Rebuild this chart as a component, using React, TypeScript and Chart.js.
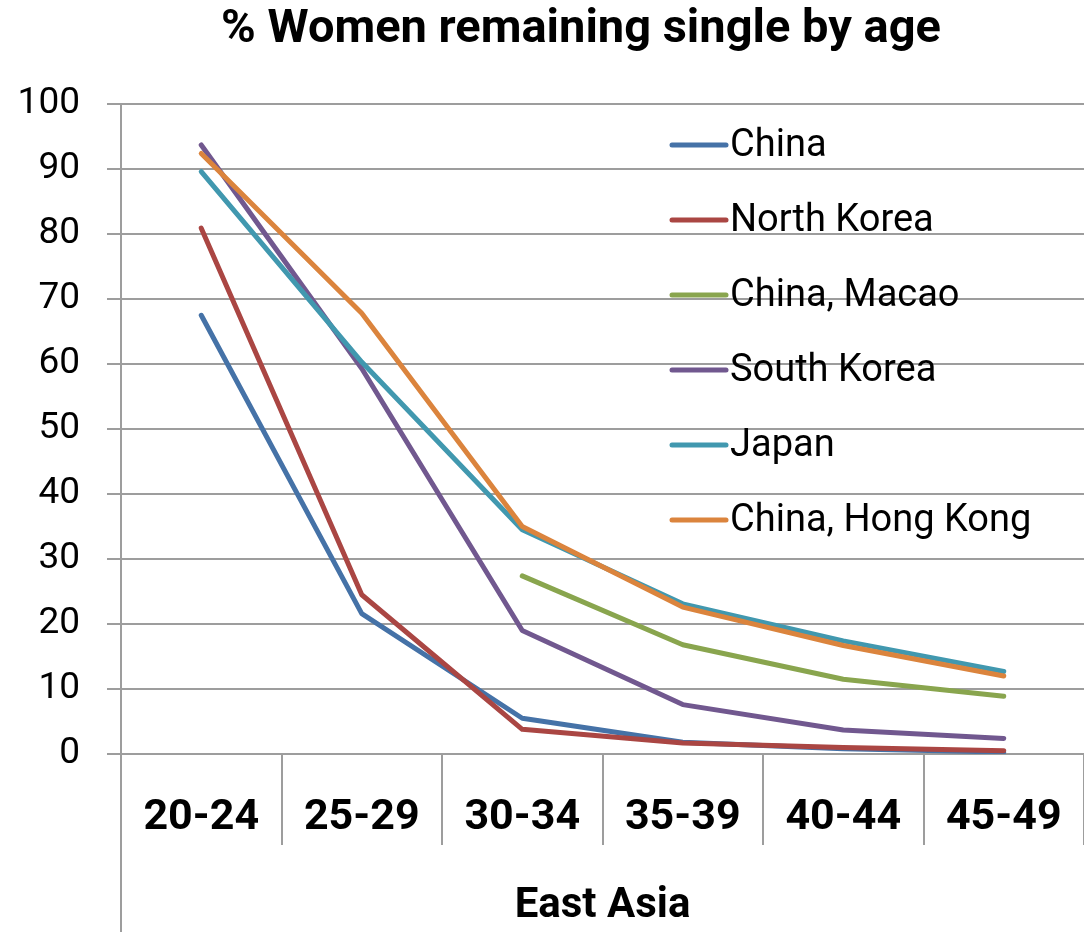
import { useEffect, useRef } from "react";
import { Chart, registerables } from "chart.js";

Chart.register(...registerables);

// Age groups on the category axis
const ageGroups = ["20-24", "25-29", "30-34", "35-39", "40-44", "45-49"];
const regionLabel = "East Asia";
const chartTitle = "% Women remaining single by age";

// Share of women never married, per age group (%)
const china = [67.5, 21.6, 5.5, 1.8, 0.8, 0.3];
const northKorea = [80.9, 24.5, 3.8, 1.7, 1.0, 0.5];
const macao = [null, null, 27.4, 16.8, 11.5, 8.9];
const southKorea = [93.7, 59.3, 19.0, 7.6, 3.7, 2.4];
const japan = [89.6, 60.3, 34.5, 23.1, 17.4, 12.7];
const hongKong = [92.4, 67.8, 35.0, 22.6, 16.7, 12.0];

const seriesNames = ["China", "North Korea", "China, Macao", "South Korea", "Japan", "China, Hong Kong"];
const seriesValues = [china, northKorea, macao, southKorea, japan, hongKong];
const seriesColors = ["#4572A7", "#AA4643", "#89A54E", "#71588F", "#4198AF", "#DB843D"];

const FONT = "Roboto";
const GRID = "#9d9d9d";
const LINE_W = 5;

// Title, category-group divider and an in-plot legend
const decorations = {
  id: "decorations",
  afterDraw(chart: any) {
    const { ctx, chartArea } = chart;
    ctx.save();

    ctx.fillStyle = "#000";
    ctx.font = `bold 47px ${FONT}`;
    ctx.textAlign = "center";
    ctx.textBaseline = "middle";
    ctx.fillText(chartTitle, chart.width / 2 + 39, 30);

    ctx.strokeStyle = GRID;
    ctx.lineWidth = 2;
    ctx.beginPath();
    ctx.moveTo(chartArea.left, chartArea.bottom);
    ctx.lineTo(chartArea.left, chart.height);
    ctx.stroke();

    const startX = chartArea.left + 551;
    const lineLen = 54;
    ctx.font = `38px ${FONT}`;
    ctx.textAlign = "left";
    ctx.lineCap = "round";
    chart.data.datasets.forEach((ds: any, i: number) => {
      const y = chartArea.top + 41 + i * 75;
      ctx.strokeStyle = ds.borderColor;
      ctx.lineWidth = LINE_W;
      ctx.beginPath();
      ctx.moveTo(startX, y);
      ctx.lineTo(startX + lineLen, y);
      ctx.stroke();
      ctx.fillStyle = "#000";
      ctx.fillText(ds.label, startX + lineLen + 4, y + 1);
    });
    ctx.restore();
  },
};

export default function App() {
  const canvasRef = useRef<HTMLCanvasElement>(null);

  useEffect(() => {
    if (!canvasRef.current) return;
    const chart = new Chart(canvasRef.current, {
      type: "line",
      data: {
        labels: ageGroups,
        datasets: seriesNames.map((name, i) => ({
          label: name,
          data: seriesValues[i],
          borderColor: seriesColors[i],
          backgroundColor: seriesColors[i],
          borderWidth: LINE_W,
          borderCapStyle: "round",
          borderJoinStyle: "round",
          pointRadius: 0,
          pointHoverRadius: 0,
          tension: 0,
          fill: false,
          spanGaps: false,
          order: seriesNames.length - i,
        })),
      },
      options: {
        animation: false,
        responsive: true,
        maintainAspectRatio: false,
        layout: { padding: { top: 104, left: 0, right: 0, bottom: 0 } },
        plugins: {
          legend: { display: false },
          title: { display: false },
          tooltip: { enabled: false },
        },
        scales: {
          x: {
            type: "category",
            offset: true,
            afterFit: (scale: any) => {
              scale.height = 178;
            },
            grid: {
              offset: true,
              drawOnChartArea: false,
              drawTicks: true,
              tickLength: 91,
              color: GRID,
              lineWidth: 2,
            },
            border: { display: true, color: GRID, width: 2 },
            ticks: {
              padding: -53,
              color: "#000",
              font: { family: FONT, size: 43, weight: "bold" },
              maxRotation: 0,
              autoSkip: false,
            },
            title: {
              display: true,
              text: regionLabel,
              color: "#000",
              font: { family: FONT, size: 42, weight: "bold" },
              padding: { top: 0, bottom: 0 },
            },
          },
          y: {
            min: 0,
            max: 100,
            afterFit: (scale: any) => {
              scale.width = 121;
            },
            ticks: {
              stepSize: 10,
              padding: 27,
              color: "#000",
              font: { family: FONT, size: 37 },
            },
            grid: {
              color: GRID,
              lineWidth: 2,
              drawTicks: true,
              tickLength: 14,
            },
            border: { display: true, color: GRID, width: 2 },
          },
        },
      },
      plugins: [decorations],
    });
    return () => chart.destroy();
  }, []);

  return (
    <div style={{ position: "absolute", left: 0, top: 0, width: 1084, height: 932, background: "#fff" }}>
      <canvas ref={canvasRef} />
    </div>
  );
}
